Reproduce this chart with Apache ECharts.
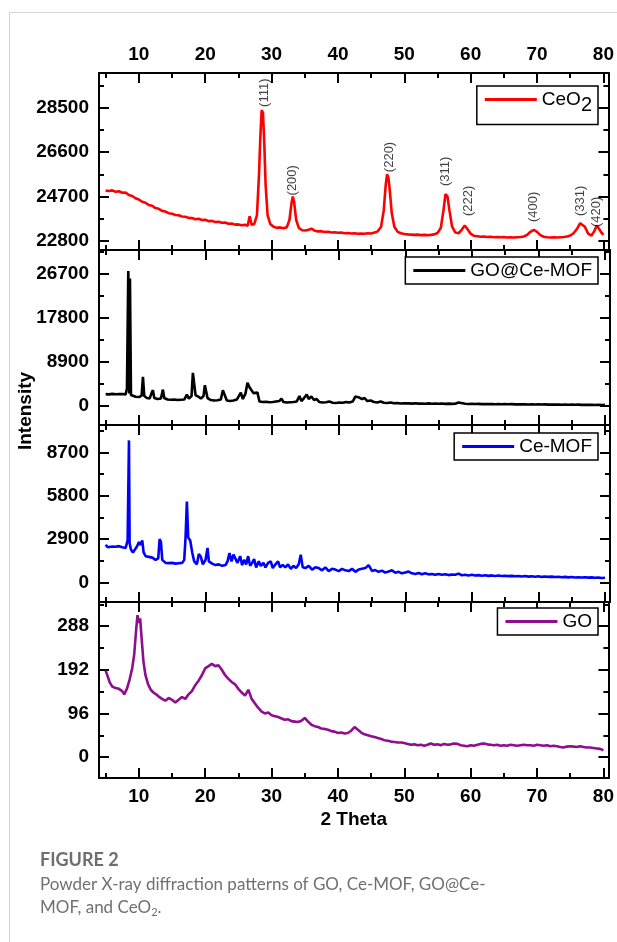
<!DOCTYPE html>
<html><head><meta charset="utf-8">
<script src="https://cdn.jsdelivr.net/npm/echarts@6/dist/echarts.min.js"></script>
<style>html,body{margin:0;padding:0;background:#fff}#c{width:617px;height:942px}</style>
</head><body><div id="c"></div>
<script>
// ---------- data ----------
const seriesNames = ['CeO2', 'GO@Ce-MOF', 'Ce-MOF', 'GO'];
const xTickValues = [10, 20, 30, 40, 50, 60, 70, 80];
const xMinorValues = [5, 15, 25, 35, 45, 55, 65, 75];
const ceo2Ticks = [22800, 24700, 26600, 28500];
const ceo2Minor = [23750, 25650, 27550, 29450];
const goMofTicks = [0, 8900, 17800, 26700];
const goMofMinor = [4450, 13350, 22250, 31150];
const ceMofTicks = [0, 2900, 5800, 8700];
const ceMofMinor = [1450, 4350, 7250, 10150];
const goTicks = [0, 96, 192, 288];
const goMinor = [48, 144, 240, 336];

const ceo2Data = [[5,24950],[5.5,24930],[6,24960],[6.5,24900],[7,24920],[7.5,24860],[8,24870],[8.5,24760],[9,24720],[9.5,24620],
[10,24570],[10.5,24470],[11,24430],[11.5,24330],[12,24300],[12.5,24200],[13,24170],[13.5,24080],[14,24050],[14.5,23980],
[15,23960],[15.5,23900],[16,23890],[16.5,23840],[17,23830],[17.5,23780],[18,23770],[18.5,23720],[19,23740],[19.5,23690],
[20,23700],[20.5,23640],[21,23650],[21.5,23600],[22,23610],[22.5,23570],[23,23580],[23.5,23530],[24,23540],[24.5,23490],
[25,23500],[25.5,23460],[26,23480],[26.4,23440],[26.7,23850],[27,23480],[27.4,23520],[27.8,23900],[28.1,25600],[28.3,27200],
[28.5,28400],[28.7,28300],[28.9,27000],[29.1,25200],[29.4,23900],[29.8,23520],[30.3,23400],[30.8,23350],[31.3,23370],[31.8,23330],
[32.3,23380],[32.7,23700],[33,24400],[33.2,24700],[33.4,24450],[33.7,23700],[34.1,23350],[34.6,23250],[35.1,23240],[35.6,23270],
[36,23320],[36.5,23230],[37,23200],[37.5,23210],[38,23170],[38.5,23180],[39,23150],[39.5,23160],[40,23140],[40.5,23150],
[41,23120],[41.5,23130],[42,23110],[42.5,23120],[43,23100],[43.5,23110],[44,23100],[44.5,23120],[45,23110],[45.5,23150],
[46,23200],[46.5,23400],[46.9,24100],[47.2,25200],[47.4,25650],[47.6,25500],[47.8,25000],[48.1,24000],[48.5,23400],[49,23180],
[49.5,23120],[50,23090],[50.5,23070],[51,23060],[51.5,23050],[52,23060],[52.5,23040],[53,23050],[53.5,23040],[54,23050],
[54.5,23070],[55,23130],[55.5,23350],[55.9,24100],[56.2,24800],[56.5,24700],[56.8,24100],[57.2,23400],[57.7,23150],[58.2,23120],
[58.6,23250],[59.1,23450],[59.5,23300],[60,23100],[60.5,23010],[61,22990],[61.5,22970],[62,22980],[62.5,22960],[63,22970],
[63.5,22950],[64,22960],[64.5,22950],[65,22960],[65.5,22940],[66,22950],[66.5,22940],[67,22950],[67.5,22960],[68,22980],
[68.5,23050],[69,23180],[69.5,23260],[70,23180],[70.5,23040],[71,22970],[71.5,22950],[72,22940],[72.5,22950],[73,22940],
[73.5,22950],[74,22960],[74.5,22980],[75,23020],[75.5,23120],[76,23300],[76.5,23550],[76.8,23620],[77.2,23400],[77.7,23100],
[78.2,23020],[78.6,23200],[79,23450],[79.3,23400],[79.7,23150],[80,23050]];

const goMofData = [[5,2400],[5.5,2350],[6,2450],[6.5,2380],[7,2400],[7.5,2420],[8,2350],[8.2,3500],[8.4,27300],[8.55,2500],
[8.65,25800],[8.8,2200],[9,1900],[9.5,1850],[10,1800],[10.4,2100],[10.6,5900],[10.8,2000],[11.2,1600],[11.6,1500],
[11.9,2600],[12.1,3200],[12.3,1600],[12.8,1400],[13.3,1500],[13.6,3300],[13.8,1600],[14.3,1300],[14.8,1250],[15.3,1300],
[15.8,1200],[16.3,1250],[16.8,1300],[17.2,2300],[17.5,1500],[17.9,2000],[18.1,6700],[18.3,6300],[18.5,2200],[18.9,1900],
[19.3,1500],[19.7,2000],[19.9,4200],[20.1,4000],[20.3,1600],[20.8,1200],[21.3,1100],[21.8,1150],[22.3,1300],[22.6,3200],
[22.9,3000],[23.2,1100],[23.7,1000],[24.2,1100],[24.7,1300],[25,1200],[25.3,2700],[25.6,1400],[26,2500],[26.3,4700],
[26.6,3800],[26.9,3400],[27.2,2600],[27.5,3000],[27.8,2700],[28.1,900],[28.6,800],[29.1,850],[29.6,750],[30.1,800],
[30.6,900],[31.1,1000],[31.4,1500],[31.7,800],[32.2,700],[32.7,750],[33.2,800],[33.7,900],[34.1,2000],[34.4,1000],
[34.8,1600],[35.2,2300],[35.5,1400],[35.9,1900],[36.3,1200],[36.7,1400],[37.1,800],[37.6,700],[38.1,750],[38.6,900],
[39.1,650],[39.6,600],[40.1,700],[40.6,650],[41.1,800],[41.6,700],[42.1,900],[42.5,1900],[42.8,2200],[43.1,1700],
[43.5,1400],[43.9,1600],[44.3,1000],[44.8,1100],[45.3,800],[45.8,700],[46.3,900],[46.8,650],[47.3,600],[47.8,700],
[48.3,550],[48.8,600],[49.3,500],[49.8,550],[50.5,520],[51,480],[51.5,560],[52,470],[52.5,500],[53,450],
[53.5,530],[54,460],[54.5,480],[55,440],[55.5,500],[56,430],[56.5,470],[57,420],[57.5,450],[58,700],
[58.3,420],[59,440],[59.5,400],[60,430],[60.5,390],[61,420],[61.5,380],[62,410],[62.5,370],[63,400],
[63.5,360],[64,390],[64.5,350],[65,380],[65.5,340],[66,370],[66.5,330],[67,360],[67.5,320],[68,350],
[68.5,310],[69,340],[69.5,300],[70,330],[70.5,290],[71,320],[71.5,280],[72,310],[72.5,270],[73,300],
[73.5,260],[74,290],[74.5,250],[75,280],[75.5,240],[76,270],[76.5,230],[77,260],[77.5,220],[78,250],
[78.5,210],[79,240],[79.5,200],[80,230]];

const ceMofData = [[5,2500],[5.3,2350],[5.6,2450],[6,2400],[6.5,2380],[7,2420],[7.5,2350],[8,2300],[8.3,2800],[8.5,9500],
[8.6,2600],[8.8,2200],[9.1,2000],[9.4,2100],[9.7,2400],[10,2700],[10.2,2500],[10.5,2800],[10.7,2000],[11,1750],
[11.5,1700],[12,1650],[12.5,1500],[12.9,1600],[13.1,2900],[13.3,2700],[13.5,1500],[14,1300],[14.5,1280],[15,1300],
[15.5,1250],[16,1280],[16.5,1300],[16.8,1500],[17,3000],[17.2,5400],[17.4,3000],[17.7,2800],[18,2000],[18.3,1400],
[18.7,1200],[19,1900],[19.3,1700],[19.6,1200],[20,1500],[20.3,2300],[20.5,1400],[21,1250],[21.5,1150],[22,1200],
[22.5,1100],[23,1150],[23.3,1400],[23.6,1950],[23.9,1400],[24.2,1850],[24.5,1950],[24.8,1300],[25.2,1750],[25.5,1150],
[25.8,1500],[26.1,1200],[26.4,1750],[26.7,1100],[27,1300],[27.3,1550],[27.6,1000],[28,1400],[28.3,1100],[28.7,1300],
[29,1000],[29.4,1300],[29.8,1400],[30.1,950],[30.5,1200],[30.9,1400],[31.2,1000],[31.6,1150],[32,1000],[32.4,1200],
[32.8,900],[33.2,1100],[33.6,950],[34,1200],[34.3,1850],[34.6,1000],[35,950],[35.5,1100],[36,850],[36.5,1000],
[37,950],[37.5,800],[38,1000],[38.5,750],[39,900],[39.5,850],[40,750],[40.5,900],[41,800],[41.5,750],
[42,900],[42.5,700],[43,850],[43.5,900],[44,950],[44.5,1150],[45,760],[45.5,820],[46,700],[46.5,780],
[47,650],[47.5,720],[48,800],[48.5,640],[49,700],[49.5,600],[50,650],[50.5,720],[51,600],[51.5,560],
[52,620],[52.5,540],[53,600],[53.5,530],[54,560],[54.5,500],[55,560],[55.5,510],[56,540],[56.5,480],
[57,520],[57.5,500],[58,580],[58.5,470],[59,500],[59.5,460],[60,500],[60.5,450],[61,480],[61.5,440],
[62,470],[62.5,430],[63,460],[63.5,420],[64,450],[64.5,420],[65,440],[65.5,410],[66,430],[66.5,400],
[67,420],[67.5,390],[68,420],[68.5,380],[69,400],[69.5,370],[70,400],[70.5,360],[71,390],[71.5,360],
[72,380],[72.5,350],[73,370],[73.5,340],[74,360],[74.5,330],[75,350],[75.5,320],[76,340],[76.5,320],
[77,340],[77.5,310],[78,330],[78.5,300],[79,320],[79.5,290],[80,300]];

const goData = [[5,190],[5.3,178],[5.6,165],[6,155],[6.5,152],[7,150],[7.5,145],[7.8,138],[8.2,150],[8.6,170],
[9,195],[9.3,225],[9.6,280],[9.8,312],[10,295],[10.2,305],[10.4,265],[10.7,210],[11,180],[11.4,160],
[11.8,148],[12.2,142],[12.6,138],[13,133],[13.5,128],[14,124],[14.5,130],[15,126],[15.5,120],[16,126],
[16.5,132],[17,128],[17.5,138],[18,145],[18.5,158],[19,168],[19.5,180],[20,195],[20.5,200],[21,205],
[21.5,200],[22,202],[22.5,192],[23,180],[23.5,172],[24,165],[24.5,160],[25,150],[25.5,142],[26,135],
[26.5,148],[27,128],[27.5,118],[28,108],[28.5,100],[29,96],[29.5,98],[30,92],[30.5,90],[31,88],
[31.5,85],[32,82],[32.5,83],[33,79],[33.5,78],[34,77],[34.5,80],[35,86],[35.5,78],[36,71],
[36.5,68],[37,66],[37.5,63],[38,62],[38.5,60],[39,57],[39.5,56],[40,53],[40.5,54],[41,52],
[41.5,53],[42,58],[42.5,66],[43,60],[43.5,54],[44,50],[44.5,48],[45,46],[45.5,44],[46,42],
[46.5,40],[47,37],[47.5,36],[48,34],[48.5,33],[49,32],[49.5,32],[50,31],[50.5,29],[51,27],
[51.5,28],[52,26],[52.5,27],[53,25],[53.5,27],[54,30],[54.5,27],[55,28],[55.5,26],[56,29],
[56.5,27],[57,28],[57.5,30],[58,29],[58.5,26],[59,25],[59.5,24],[60,26],[60.5,25],[61,27],
[61.5,29],[62,30],[62.5,28],[63,27],[63.5,26],[64,27],[64.5,25],[65,26],[65.5,25],[66,27],
[66.5,26],[67,25],[67.5,26],[68,27],[68.5,26],[69,26],[69.5,25],[70,27],[70.5,26],[71,25],
[71.5,26],[72,24],[72.5,25],[73,24],[73.5,22],[74,21],[74.5,23],[75,24],[75.5,23],[76,22],
[76.5,24],[77,22],[77.5,21],[78,21],[78.5,20],[79,19],[79.5,18],[80,15]];

const peakLabels = ['(111)', '(200)', '(220)', '(311)', '(222)', '(400)', '(331)', '(420)'];
const peakX = [28.9, 33.1, 47.8, 56.2, 59.7, 69.4, 76.5, 79.0];
const peakY = [28500, 24700, 25700, 25100, 23815, 23560, 23815, 23345];

// ---------- layout ----------
const panelData = [ceo2Data, goMofData, ceMofData, goData];
const panelTicks = [ceo2Ticks, goMofTicks, ceMofTicks, goTicks];
const panelMinor = [ceo2Minor, goMofMinor, ceMofMinor, goMinor];
const panelRange = [[22400, 30000], [-3850, 31550], [-1320, 10530], [-46, 341]];
const panelColor = ['#ff0000', '#000000', '#0000ff', '#8e0e8e'];
const gridTop = [73, 250, 425, 602];
const gridH = [177, 175, 177, 176];
const legendTop = [86, 257, 433, 608];
const X_MIN = 4, X_MAX = 80.75;
const FONT = "'Liberation Sans', Arial, sans-serif";
const labelStyle = { fontFamily: FONT, fontWeight: 'bold', fontSize: 19, color: '#000' };
const plain = (v) => String(v);

const grids = [], xAxes = [], yAxes = [], series = [], legends = [];

function xAxis(gi, pos, values, len, showLine, showLabel) {
  return {
    gridIndex: gi, type: 'value', position: pos, min: X_MIN, max: X_MAX,
    axisLine: { show: showLine, onZero: false, lineStyle: { color: '#000', width: 2 } },
    axisTick: { show: true, inside: true, length: len, customValues: values, lineStyle: { color: '#000', width: 2 } },
    axisLabel: Object.assign({ show: showLabel, customValues: values, margin: 9, formatter: plain }, labelStyle),
    splitLine: { show: false }
  };
}
function yAxis(gi, pos, range, values, len, showLine, showLabel) {
  return {
    gridIndex: gi, type: 'value', position: pos, min: range[0], max: range[1],
    axisLine: { show: showLine, onZero: false, lineStyle: { color: '#000', width: 2 } },
    axisTick: { show: true, inside: true, length: len, customValues: values, lineStyle: { color: '#000', width: 2 } },
    axisLabel: Object.assign({ show: showLabel, customValues: values, margin: 10, formatter: plain }, labelStyle),
    splitLine: { show: false }
  };
}

for (let i = 0; i < 4; i++) {
  grids.push({ left: 99, right: 7, top: gridTop[i], height: gridH[i], containLabel: false });
  const bx = xAxis(i, 'bottom', xTickValues, 10, true, i === 3);
  if (i === 3) {
    bx.name = '2 Theta'; bx.nameLocation = 'middle'; bx.nameGap = 32;
    bx.nameTextStyle = Object.assign({}, labelStyle);
  }
  xAxes.push(bx);
  xAxes.push(xAxis(i, 'bottom', xMinorValues, 5, false, false));
  xAxes.push(xAxis(i, 'top', xTickValues, 10, true, i === 0));
  xAxes.push(xAxis(i, 'top', xMinorValues, 5, false, false));
  yAxes.push(yAxis(i, 'left', panelRange[i], panelTicks[i], 10, true, true));
  yAxes.push(yAxis(i, 'left', panelRange[i], panelMinor[i], 5, false, false));
  yAxes.push(yAxis(i, 'right', panelRange[i], panelTicks[i], 10, true, false));
  yAxes.push(yAxis(i, 'right', panelRange[i], panelMinor[i], 5, false, false));

  series.push({
    type: 'line', name: seriesNames[i], xAxisIndex: 4 * i, yAxisIndex: 4 * i,
    data: panelData[i], symbol: 'none', showSymbol: false,
    lineStyle: { color: panelColor[i], width: 2.6 }, itemStyle: { color: panelColor[i] },
    clip: true, z: 2
  });

  legends.push({
    data: [seriesNames[i]], right: 19, top: legendTop[i], orient: 'horizontal',
    icon: 'rect', itemWidth: 52, itemHeight: 3, selectedMode: false,
    backgroundColor: '#fff', borderColor: '#000', borderWidth: 1.5, borderRadius: 0,
    padding: i === 0 ? [4, 6, 9, 8] : [4, 6, 4, 8],
    formatter: (n) => n === 'CeO2' ? '{b|CeO}{s|2}' : n,
    textStyle: {
      fontFamily: FONT, fontSize: 19, color: '#000',
      rich: {
        b: { fontFamily: FONT, fontSize: 19, color: '#000' },
        s: { fontFamily: FONT, fontSize: 20, color: '#000', padding: [12, 0, 0, 0] }
      }
    }
  });
}

series.push({
  type: 'scatter', xAxisIndex: 0, yAxisIndex: 0, symbolSize: 0, silent: true,
  data: peakX.map((x, k) => [x, peakY[k]]),
  label: {
    show: true, position: 'top', distance: 1, rotate: 90, align: 'left', verticalAlign: 'middle',
    fontFamily: FONT, fontSize: 13, color: '#111',
    formatter: (p) => peakLabels[p.dataIndex]
  }
});

const CAP = "Lato, 'Open Sans', sans-serif";
const chart = echarts.init(document.getElementById('c'), null, { renderer: 'canvas' });
chart.setOption({
  animation: false,
  backgroundColor: '#fff',
  grid: grids, xAxis: xAxes, yAxis: yAxes, series: series, legend: legends,
  graphic: [
    { type: 'line', shape: { x1: 9, y1: 12.5, x2: 617, y2: 12.5 }, style: { stroke: '#d4d4d4', lineWidth: 1 } },
    { type: 'line', shape: { x1: 9.5, y1: 12, x2: 9.5, y2: 942 }, style: { stroke: '#d4d4d4', lineWidth: 1 } },
    { type: 'text', x: 26, y: 411, rotation: Math.PI / 2,
      style: { text: 'Intensity', fontFamily: FONT, fontWeight: 'bold', fontSize: 19, fill: '#000', align: 'center', verticalAlign: 'middle' } },
    { type: 'text', x: 40, y: 860,
      style: { text: 'FIGURE 2', fontFamily: CAP, fontWeight: 'bold', fontSize: 18, fill: '#6e6e6e', align: 'left', verticalAlign: 'middle' } },
    { type: 'text', x: 40, y: 885,
      style: { text: 'Powder X-ray diffraction patterns of GO, Ce-MOF, GO@Ce-', fontFamily: CAP, fontSize: 17, fill: '#707070', align: 'left', verticalAlign: 'middle' } },
    { type: 'text', x: 40, y: 908,
      style: { text: 'MOF, and CeO{s|2}.', fontFamily: CAP, fontSize: 17, fill: '#707070', align: 'left', verticalAlign: 'middle',
        rich: { s: { fontFamily: CAP, fontSize: 11, fill: '#707070', padding: [8, 0, 0, 0] } } } }
  ]
});
</script></body></html>
